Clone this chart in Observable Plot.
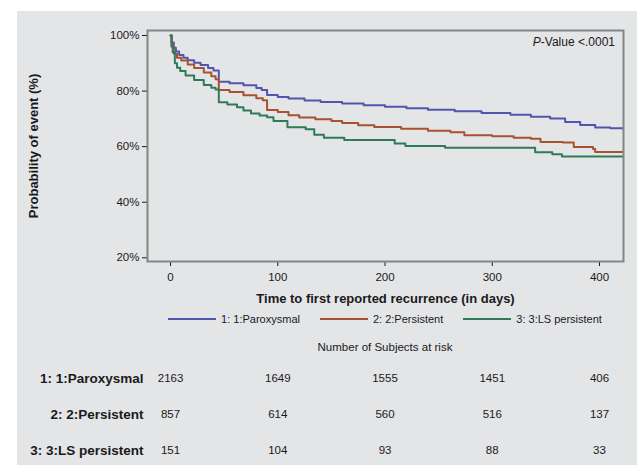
<!DOCTYPE html>
<html>
<head>
<meta charset="utf-8">
<script src="https://cdn.jsdelivr.net/npm/d3@7"></script>
<script src="https://cdn.jsdelivr.net/npm/@observablehq/plot@0.6"></script>
<style>
  html, body { margin: 0; padding: 0; background: #ffffff; }
  body { width: 637px; height: 465px; position: relative; overflow: hidden;
         font-family: "Liberation Sans", Arial, sans-serif; color: #1a1a1a; }
  #panel { position: absolute; left: 17px; top: 11px; width: 620px; height: 454px; background: #e4e5e7; }
  #plot1 { position: absolute; left: 0; top: 0; }
  #plot2 { position: absolute; left: 0; top: 349px; }
  #pval { position: absolute; right: 22px; top: 24px; font-size: 12px; white-space: nowrap; }
  #legend { position: absolute; left: 0; width: 736px; top: 301px; height: 14px;
            display: flex; justify-content: center; align-items: center; font-size: 11px; white-space: nowrap; }
  #legend .item { display: flex; align-items: center; margin: 0 10px; }
  #legend .sw { width: 48px; height: 2.5px; margin-right: 5px; }
  #risktitle { position: absolute; left: 0; width: 736px; top: 330px; text-align: center; font-size: 11.5px; }
</style>
</head>
<body>
<div id="panel">
  <div id="plot1"></div>
  <div id="pval"><i>P</i>-Value &lt;.0001</div>
  <div id="legend"></div>
  <div id="risktitle">Number of Subjects at risk</div>
  <div id="plot2"></div>
</div>
<script>
// ---------- data ----------
const groups = ["1: 1:Paroxysmal", "2: 2:Persistent", "3: 3:LS persistent"];
const colors = ["#5255ae", "#a8522f", "#2f7a58"];
const xTicks = [0, 100, 200, 300, 400];
const yTicks = [20, 40, 60, 80, 100];

// [day, probability %]
const paroxysmal = [[0,100],[1,97.5],[3,95.6],[5,94.2],[8,93],[12,92],[16,91.1],[22,90.2],[28,89.4],[35,88.3],[40,87.4],[45,83.4],[55,82.8],[68,82.1],[80,81.1],[85,80.4],[90,78.6],[100,77.9],[110,77.3],[125,76.6],[140,76.1],[160,75.5],[180,74.9],[200,74.4],[220,73.8],[240,73.3],[265,72.7],[290,72.1],[317,71.5],[336,70.8],[354,70.1],[368,68.9],[382,67.8],[396,66.9],[410,66.6],[422,66.4]];
const persistent = [[0,100],[1,96],[3,93.4],[6,92],[10,91],[16,89.6],[22,88.3],[31,86.7],[38,85.3],[42,84.3],[45,80.4],[55,79.7],[68,78.5],[80,77.4],[86,76.7],[90,73.2],[100,72.5],[110,71.3],[120,70.5],[135,69.9],[150,69.2],[160,68.5],[175,67.7],[190,67.1],[215,66.4],[240,65.7],[261,65.2],[274,64.1],[300,63.7],[320,63.2],[336,62.8],[345,61.7],[366,61.5],[376,59.9],[394,59.2],[396,58.1],[422,58.1]];
const lsPersistent = [[0,100],[1,96],[2,94],[4,90],[6,88.4],[9,87.2],[14,85.6],[22,84],[31,82.2],[38,81.2],[42,80.6],[45,76],[53,75.2],[62,74.2],[68,73],[75,71.9],[83,71.2],[90,70.6],[96,69.2],[109,67],[126,66.3],[134,64.3],[143,63.2],[162,62.4],[209,61.1],[219,60.2],[256,59.6],[340,58],[356,57.3],[365,56.5],[422,56.5]];

// numbers at risk at days 0,100,200,300,400
const atRiskParoxysmal = [2163, 1649, 1555, 1451, 406];
const atRiskPersistent = [857, 614, 560, 516, 137];
const atRiskLsPersistent = [151, 104, 93, 88, 33];

const xTitle = "Time to first reported recurrence (in days)";
const yTitle = "Probability of event (%)";

// ---------- build tables ----------
const series = [paroxysmal, persistent, lsPersistent];
const curveRows = series.flatMap((s, i) => s.map(([day, pct]) => ({group: groups[i], day, pct})));
const risk = [atRiskParoxysmal, atRiskPersistent, atRiskLsPersistent];
const riskRows = risk.flatMap((r, i) => r.map((n, j) => ({group: groups[i], day: xTicks[j], n})));

const xDomain = [-21.5, 422.4];
const font = "'Liberation Sans', Arial, sans-serif";

const p1 = Plot.plot({
  width: 620, height: 300,
  marginLeft: 130, marginRight: 14, marginTop: 19, marginBottom: 50,
  style: {background: "transparent", fontFamily: font, fontSize: "11.5px", color: "#1a1a1a"},
  x: {domain: xDomain, ticks: xTicks, tickSize: 5, tickPadding: 6, label: null},
  y: {domain: [18.67, 101.8], ticks: yTicks, tickFormat: d => d + "%", tickSize: 5, tickPadding: 3, label: null},
  color: {domain: groups, range: colors},
  marks: [
    Plot.line(curveRows, {x: "day", y: "pct", z: "group", stroke: "group", curve: "step-after", strokeWidth: 2}),
    Plot.frame({stroke: "#858585", strokeWidth: 2}),
    Plot.text([xTitle], {text: d => d, frameAnchor: "bottom", dy: 41, fontWeight: "bold", fontSize: 13}),
    Plot.text([yTitle], {text: d => d, frameAnchor: "left", textAnchor: "middle", dx: -114, rotate: -90, fontWeight: "bold", fontSize: 13})
  ]
});
document.getElementById("plot1").appendChild(p1);

const p2 = Plot.plot({
  width: 620, height: 108,
  marginLeft: 130, marginRight: 14, marginTop: 0, marginBottom: 0,
  style: {background: "transparent", fontFamily: font, fontSize: "11.5px", color: "#1a1a1a"},
  x: {domain: xDomain, axis: null},
  y: {type: "point", domain: groups, padding: 0.5, axis: null},
  marks: [
    Plot.text(riskRows, {x: "day", y: "group", text: d => String(d.n), fontSize: 11.5}),
    Plot.text(groups, {y: d => d, text: d => d, frameAnchor: "left", textAnchor: "end", dx: -4, fontWeight: "bold", fontSize: 13.5})
  ]
});
document.getElementById("plot2").appendChild(p2);

// legend
const legend = document.getElementById("legend");
groups.forEach((g, i) => {
  const item = document.createElement("div");
  item.className = "item";
  const sw = document.createElement("div");
  sw.className = "sw";
  sw.style.background = colors[i];
  const t = document.createElement("span");
  t.textContent = g;
  item.appendChild(sw); item.appendChild(t);
  legend.appendChild(item);
});
</script>
</body>
</html>
